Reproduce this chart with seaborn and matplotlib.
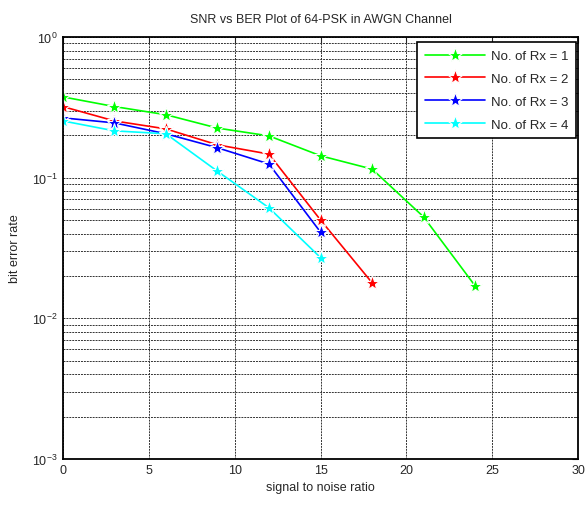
import numpy as np
import pandas as pd
import matplotlib
matplotlib.use("Agg")
import matplotlib.pyplot as plt
import seaborn as sns

# values
snr_rx1 = [0, 3, 6, 9, 12, 15, 18, 21, 24]
ber_rx1 = [0.375, 0.32, 0.28, 0.225, 0.198, 0.143, 0.115, 0.0526, 0.017]
snr_rx2 = [0, 3, 6, 9, 12, 15, 18]
ber_rx2 = [0.32, 0.253, 0.222, 0.171, 0.147, 0.05, 0.0179]
snr_rx3 = [0, 3, 6, 9, 12, 15]
ber_rx3 = [0.266, 0.245, 0.205, 0.163, 0.125, 0.041]
snr_rx4 = [0, 3, 6, 9, 12, 15]
ber_rx4 = [0.253, 0.215, 0.205, 0.111, 0.061, 0.027]
labels = ["No. of Rx = 1", "No. of Rx = 2", "No. of Rx = 3", "No. of Rx = 4"]
colors = ["#00ff00", "#ff0000", "#0000ff", "#00ffff"]

frames = []
for lab, x, y in zip(labels, [snr_rx1, snr_rx2, snr_rx3, snr_rx4],
                     [ber_rx1, ber_rx2, ber_rx3, ber_rx4]):
    frames.append(pd.DataFrame({"snr": x, "ber": y, "rx": lab}))
df = pd.concat(frames, ignore_index=True)

sns.set_style("white")
plt.rcParams["font.family"] = ["Liberation Sans", "DejaVu Sans"]
plt.rcParams["font.size"] = 9

fig = plt.figure(figsize=(5.87, 5.06), dpi=100)
ax = fig.add_axes([0.107, 0.091, 0.878, 0.834])

sns.lineplot(data=df, x="snr", y="ber", hue="rx", palette=colors,
             marker="*", markersize=11, markeredgewidth=0.8, linewidth=1.2,
             ax=ax, legend=True)

ax.set_yscale("log")
ax.set_xlim(0, 30)
ax.set_ylim(1e-3, 1)
ax.set_xticks([0, 5, 10, 15, 20, 25, 30])
ax.grid(True, which="major", axis="both", color="#333333", linestyle=(0, (2, 1)), linewidth=0.7)
ax.grid(True, which="minor", axis="y", color="#333333", linestyle=(0, (2, 1)), linewidth=0.7)
ax.tick_params(direction="in", which="both", top=True, right=True, length=4, labelsize=9)
ax.tick_params(which="minor", length=2.5)
for s in ax.spines.values():
    s.set_color("black")
    s.set_linewidth(1.3)

ax.set_title("SNR vs BER Plot of 64-PSK in AWGN Channel", fontsize=9, pad=11)
ax.set_xlabel("signal to noise ratio", fontsize=9)
ax.set_ylabel("bit error rate", fontsize=9, labelpad=8)

leg = ax.legend(loc="upper right", fontsize=9.5, frameon=True, fancybox=False,
                edgecolor="black", framealpha=1, handlelength=4.6,
                borderpad=0.6, labelspacing=0.8, handletextpad=0.4,
                borderaxespad=0, bbox_to_anchor=(0.996, 0.988))
leg.get_frame().set_linewidth(1.2)

plt.savefig("out.png", dpi=100)
